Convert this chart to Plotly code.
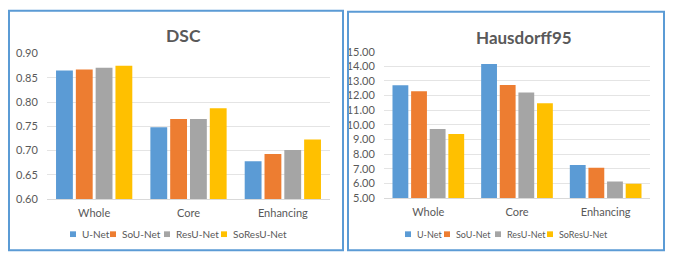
import plotly.graph_objects as go

categories = ["Whole", "Core", "Enhancing"]
series_names = ["U-Net", "SoU-Net", "ResU-Net", "SoResU-Net"]
colors = ["#5B9BD5", "#ED7D31", "#A5A5A5", "#FFC000"]

dsc_unet = [0.865, 0.748, 0.678]
dsc_sounet = [0.867, 0.765, 0.693]
dsc_resunet = [0.871, 0.765, 0.701]
dsc_soresunet = [0.875, 0.787, 0.723]

hd_unet = [12.70, 14.15, 7.26]
hd_sounet = [12.30, 12.72, 7.07]
hd_resunet = [9.72, 12.22, 6.13]
hd_soresunet = [9.37, 11.48, 5.98]

dsc_vals = [dsc_unet, dsc_sounet, dsc_resunet, dsc_soresunet]
hd_vals = [hd_unet, hd_sounet, hd_resunet, hd_soresunet]

W, H = 694, 263
FONT = "Lato, Open Sans, sans-serif"
TXT = "#595959"

fig = go.Figure()
for name, c, v in zip(series_names, colors, dsc_vals):
    fig.add_trace(go.Bar(x=categories, y=v, name=name, marker=dict(color=c, line=dict(width=0)),
                         xaxis="x", yaxis="y", showlegend=False))
for name, c, v in zip(series_names, colors, hd_vals):
    fig.add_trace(go.Bar(x=categories, y=v, name=name, marker=dict(color=c, line=dict(width=0)),
                         xaxis="x2", yaxis="y2", showlegend=False))

def px(x):
    return x / W

def py(y):
    return 1 - y / H

axis_common = dict(showgrid=False, showline=True, linecolor="#D9D9D9", linewidth=1,
                   ticks="outside", ticklen=4, tickcolor="rgba(0,0,0,0)",
                   tickfont=dict(family=FONT, size=11, color=TXT), fixedrange=True)
yaxis_common = dict(showgrid=True, gridcolor="#E4E4E4", gridwidth=1, zeroline=False,
                    showline=False, ticks="outside", ticklen=6, tickcolor="rgba(0,0,0,0)",
                    tickfont=dict(family=FONT, size=11, color=TXT),
                    tickformat=".2f", fixedrange=True)

# manual legends (square marker + label), layout positions only
legend_left_sq = [70, 110, 164, 221]
legend_right_sq = [405, 444, 495, 547]
legend_y = 239
shapes = [
    dict(type="rect", xref="paper", yref="paper", x0=px(9), x1=px(343), y0=py(256), y1=py(4),
         line=dict(color="#5B9BD5", width=2), fillcolor="rgba(0,0,0,0)"),
    dict(type="rect", xref="paper", yref="paper", x0=px(348), x1=px(664), y0=py(256), y1=py(5),
         line=dict(color="#5B9BD5", width=2), fillcolor="rgba(0,0,0,0)"),
]
annotations = [
    dict(text="<b>DSC</b>", x=px(183), y=py(30), xref="paper", yref="paper",
         showarrow=False, font=dict(family=FONT, size=17.5, color=TXT), xanchor="center", yanchor="middle"),
    dict(text="<b>Hausdorff95</b>", x=px(524), y=py(32), xref="paper", yref="paper",
         showarrow=False, font=dict(family=FONT, size=17, color=TXT), xanchor="center", yanchor="middle"),
]
for xs, fs in ((legend_left_sq, 10), (legend_right_sq, 9)):
    for x0, name, c in zip(xs, series_names, colors):
        shapes.append(dict(type="rect", xref="paper", yref="paper",
                           x0=px(x0), x1=px(x0 + 6), y0=py(legend_y + 3), y1=py(legend_y - 3),
                           line=dict(width=0), fillcolor=c))
        annotations.append(dict(text=name, x=px(x0 + 10), y=py(legend_y), xref="paper", yref="paper",
                                showarrow=False, xanchor="left", yanchor="middle",
                                font=dict(family=FONT, size=fs, color=TXT)))

fig.update_layout(
    width=W, height=H, autosize=False,
    margin=dict(l=0, r=0, t=0, b=0),
    paper_bgcolor="white", plot_bgcolor="white",
    barmode="group", bargap=0.16, bargroupgap=0.15,
    font=dict(family=FONT, color=TXT),
    showlegend=False,
    xaxis=dict(domain=[px(47), px(330)], anchor="y", **axis_common),
    yaxis=dict(domain=[py(202), py(49)], anchor="x", range=[0.6, 0.9], dtick=0.05, **yaxis_common),
    xaxis2=dict(domain=[px(384), px(650)], anchor="y2", **axis_common),
    yaxis2=dict(domain=[py(201), py(47)], anchor="x2", range=[5, 15], dtick=1, **yaxis_common),
    annotations=annotations,
    shapes=shapes,
)

post = ("var d=document.documentElement,b=document.body;"
        "d.style.margin='0';d.style.padding='0';d.style.overflow='hidden';"
        "b.style.margin='0';b.style.padding='0';b.style.overflow='hidden';"
        "var g=document.getElementById('{plot_id}');"
        "g.style.position='fixed';g.style.top='0px';g.style.left='0px';")
fig.write_html("out.html", config={"displayModeBar": False, "responsive": False}, post_script=post)
